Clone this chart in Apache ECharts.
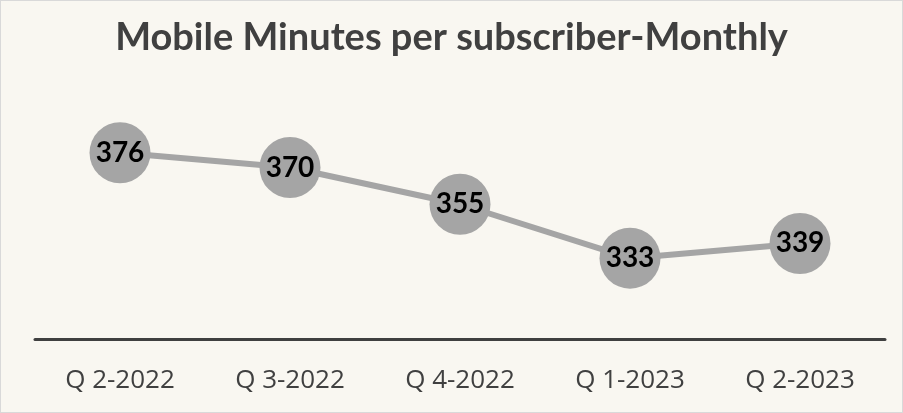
<!DOCTYPE html>
<html>
<head>
<meta charset="utf-8">
<script src="https://cdn.jsdelivr.net/npm/echarts@6/dist/echarts.min.js"></script>
<style>
  html, body { margin: 0; padding: 0; background: #fff; }
  #chart { width: 903px; height: 413px; box-sizing: border-box; border: 1px solid #d9d9d9; }
</style>
</head>
<body>
<div id="chart"></div>
<script>
// quarters and minutes per subscriber
const quarters = ['Q 2-2022', 'Q 3-2022', 'Q 4-2022', 'Q 1-2023', 'Q 2-2023']
const minutes = [376, 370, 355, 333, 339]

const myChart = echarts.init(document.getElementById('chart'))
const options = {
  backgroundColor: '#f9f7f1',
  animation: false,
  title: {
    text: 'Mobile Minutes per subscriber-Monthly',
    left: 'center',
    top: 13,
    textStyle: {
      fontFamily: 'Lato',
      fontWeight: 'bold',
      fontSize: 38,
      color: '#404040'
    }
  },
  grid: {
    left: 34,
    right: 17,
    top: 93,
    bottom: 73
  },
  xAxis: {
    type: 'category',
    data: quarters,
    axisTick: { show: false },
    axisLine: { show: true, lineStyle: { color: '#404040', width: 3 } },
    axisLabel: {
      margin: 29,
      fontSize: 26,
      fontFamily: 'Open Sans',
      color: '#404040'
    }
  },
  yAxis: {
    type: 'value',
    min: 300,
    max: 400,
    show: false,
    splitLine: { show: false }
  },
  series: [
    {
      type: 'line',
      data: minutes,
      symbol: 'circle',
      symbolSize: 61,
      itemStyle: { color: '#a5a5a5' },
      lineStyle: { color: '#a5a5a5', width: 6 },
      label: {
        show: true,
        position: 'inside',
        fontFamily: 'Lato',
        fontWeight: 'bold',
        fontSize: 28,
        color: '#000000'
      }
    }
  ]
}
myChart.setOption(options)
</script>
</body>
</html>
